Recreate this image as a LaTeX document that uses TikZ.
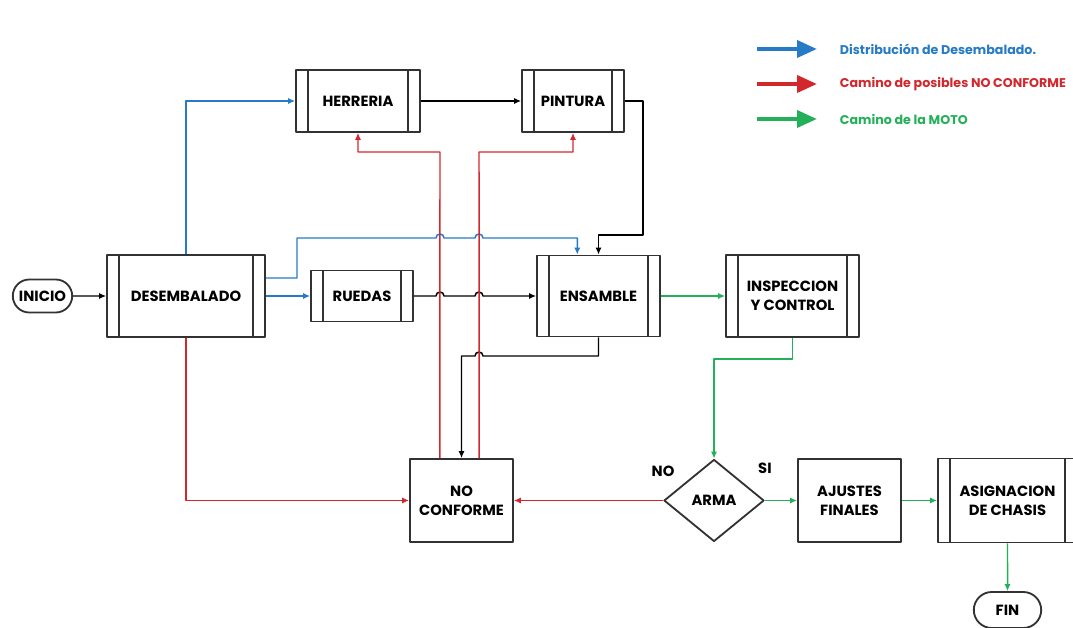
\documentclass[tikz,border=0pt]{standalone}
\usepackage{fontspec}
\setmainfont{Poppins}
\usetikzlibrary{arrows.meta,shapes.geometric,shapes.misc}
\definecolor{azul}{RGB}{38,122,198}
\definecolor{rojo}{RGB}{210,40,45}
\definecolor{verde}{RGB}{36,176,88}
\definecolor{borde}{RGB}{50,50,50}
\tikzset{
	caja/.style={draw=borde, line width=1.3pt, align=center, inner sep=2pt},
	proceso/.style={caja, path picture={
		\draw[borde, line width=1.1pt] ([xshift=0.3cm]path picture bounding box.north west) -- ([xshift=0.3cm]path picture bounding box.south west)
		([xshift=-0.3cm]path picture bounding box.north east) -- ([xshift=-0.3cm]path picture bounding box.south east);}},
	terminal/.style={caja, rounded rectangle},
	decision/.style={caja, diamond, inner sep=0pt},
	flecha/.style={->, line width=1.05pt},
	leyenda/.style={-{Triangle[length=0.5cm,width=0.42cm]}, line width=3pt},
}

\begin{document}
\begin{tikzpicture}[x=0.025cm, y=-0.025cm, >={Latex[length=5pt,width=4.5pt]}, font=\bfseries\fontsize{10.5}{13.5}\selectfont, line join=round]
	\useasboundingbox (0,0) rectangle (1073,628);
	% nodos
	\node[terminal, minimum width=1.625cm, minimum height=0.825cm] (inicio) at (42.5,296) {INICIO};
	\node[proceso, minimum width=3.95cm, minimum height=2.05cm] (desembalado) at (186,296) {DESEMBALADO};
	\node[proceso, minimum width=2.55cm, minimum height=1.275cm] (ruedas) at (362,296) {RUEDAS};
	\node[proceso, minimum width=3.1cm, minimum height=1.55cm] (herreria) at (358,101) {HERRERIA};
	\node[proceso, minimum width=2.55cm, minimum height=1.55cm] (pintura) at (573,101) {PINTURA};
	\node[proceso, minimum width=3.075cm, minimum height=2.025cm] (ensamble) at (598.5,296) {ENSAMBLE};
	\node[proceso, minimum width=3.325cm, minimum height=2.05cm] (inspeccion) at (792.5,296) {INSPECCION\\Y CONTROL};
	\node[caja, minimum width=2.575cm, minimum height=2.075cm] (noconforme) at (461.5,500.5) {NO\\CONFORME};
	\node[decision, minimum width=2.5cm, minimum height=2.05cm] (arma) at (714,500.5) {ARMA};
	\node[caja, minimum width=2.575cm, minimum height=2.075cm] (ajustes) at (849.5,500.5) {AJUSTES\\FINALES};
	\node[proceso, minimum width=3.475cm, minimum height=2.1cm] (asignacion) at (1007.5,500.5) {ASIGNACION\\DE CHASIS};
	\node[terminal, minimum width=1.825cm, minimum height=0.9cm] (fin) at (1007.5,610) {FIN};
	\node (no) at ([yshift=0.72cm]arma.west) {NO};
	\node (si) at ([yshift=0.8cm]arma.east) {SI};
	% puntos de quiebre rojos
	\coordinate (r1) at (440,152);
	\coordinate (r2) at (479,152);
	% conectores negros
	\draw[flecha] (inicio) -- (desembalado);
	\draw[flecha] (herreria) -- (pintura);
	\draw[flecha] (pintura.east) -| (643,235) -| (ensamble.north);
	\draw[flecha] (ruedas.east) -- (436,296) arc[start angle=180,end angle=0,radius=0.1cm] -- (475,296) arc[start angle=180,end angle=0,radius=0.1cm] -- (ensamble.west);
	\draw[flecha] (ensamble.south) |- (483,356) arc[start angle=0,end angle=180,radius=0.1cm] -| (noconforme.north);
	% conectores azules
	\draw[flecha, azul] (desembalado.north) |- (herreria.west);
	\draw[flecha, azul] (desembalado.east) -- (ruedas.west);
	\draw[flecha, azul] ([yshift=0.45cm]desembalado.east) -| (297,238) -- (436,238) arc[start angle=180,end angle=0,radius=0.1cm] -- (475,238) arc[start angle=180,end angle=0,radius=0.1cm] -| ([xshift=-0.53cm]ensamble.north);
	% conectores rojos
	\draw[flecha, rojo] ([xshift=-0.54cm]noconforme.north) -- (r1) -| (herreria.south);
	\draw[flecha, rojo] ([xshift=0.44cm]noconforme.north) -- (r2) -| (pintura.south);
	\draw[flecha, rojo] (desembalado.south) |- (noconforme.west);
	\draw[flecha, rojo] (arma.west) -- (noconforme.east);
	% conectores verdes
	\draw[flecha, verde] (ensamble) -- (inspeccion);
	\draw[flecha, verde] (inspeccion.south) -- ++(0,21) -| (arma.north);
	\draw[flecha, verde] (arma) -- (ajustes);
	\draw[flecha, verde] (ajustes) -- (asignacion);
	\draw[flecha, verde] (asignacion) -- (fin);
	% leyenda
	\coordinate (l1) at (757,49);
	\coordinate (l2) at (757,84);
	\coordinate (l3) at (757,119);
	\draw[leyenda, azul] (l1) -- ++(60,0);
	\draw[leyenda, rojo] (l2) -- ++(60,0);
	\draw[leyenda, verde] (l3) -- ++(60,0);
	\node[anchor=west, azul, font=\bfseries\fontsize{9}{11}\selectfont] at (835,49) {Distribución de Desembalado.};
	\node[anchor=west, rojo, font=\bfseries\fontsize{9}{11}\selectfont] at (835,84) {Camino de posibles NO CONFORME};
	\node[anchor=west, verde, font=\bfseries\fontsize{9}{11}\selectfont] at (835,119) {Camino de la MOTO};
\end{tikzpicture}
\end{document}
